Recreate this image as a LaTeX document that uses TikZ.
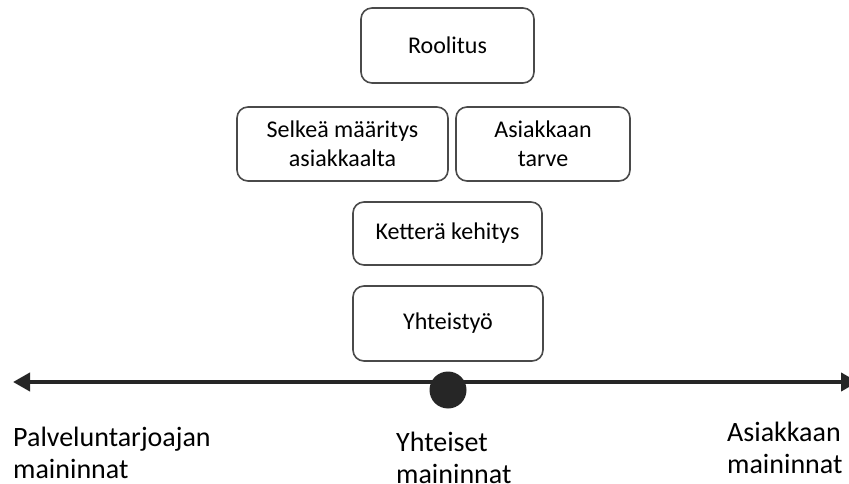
\documentclass[tikz,border=0pt]{standalone}
\usepackage{fontspec}
\setmainfont{Carlito}
\usetikzlibrary{arrows.meta}
\definecolor{boxgray}{HTML}{4A4A4A}
\definecolor{axisgray}{HTML}{262626}
\begin{document}
\begin{tikzpicture}[x=1pt,y=-1pt,
  box/.style={draw=boxgray, line width=1.6pt, rounded corners=11pt, inner sep=0pt,
    font=\fontsize{24}{29}\selectfont, align=center, text=black},
  lbl/.style={font=\fontsize{28}{32}\selectfont, align=left, inner sep=0pt,
    anchor=north west, text=black},
  axis/.style={draw=axisgray, line width=4pt,
    {Triangle[length=17pt,width=18pt]}-{Triangle[length=17pt,width=18pt]}}]
\useasboundingbox (0,0) rectangle (849,484);

% factor boxes
\node[box, minimum width=173pt, minimum height=75pt] (rool) at (447.5,45.5) {Roolitus};
\node[box, minimum width=211pt, minimum height=74pt] (selk) at (342.5,144) {Selkeä määritys\\asiakkaalta};
\node[box, minimum width=174pt, minimum height=74pt] (tarve) at (543,144) {Asiakkaan\\tarve};
\node[box, minimum width=189pt, minimum height=63pt] (kett) at (447.5,233.5) {Ketterä kehitys};
\node[box, minimum width=190pt, minimum height=75pt] (yht) at (448,323.5) {Yhteistyö};

% axis with midpoint marker
\coordinate (axL) at (13,382);
\coordinate (axR) at (858,382);
\draw[axis] (axL) -- (axR);
\node[circle, fill=axisgray, minimum size=37pt, inner sep=0pt] (mid) at (448,390) {};

% axis labels
\node[lbl] (prov) at (13,427) {Palveluntarjoajan\\maininnat};
\node[lbl] (both) at (396,432) {Yhteiset\\maininnat};
\node[lbl] (cust) at (727,422) {Asiakkaan\\maininnat};
\end{tikzpicture}
\end{document}
